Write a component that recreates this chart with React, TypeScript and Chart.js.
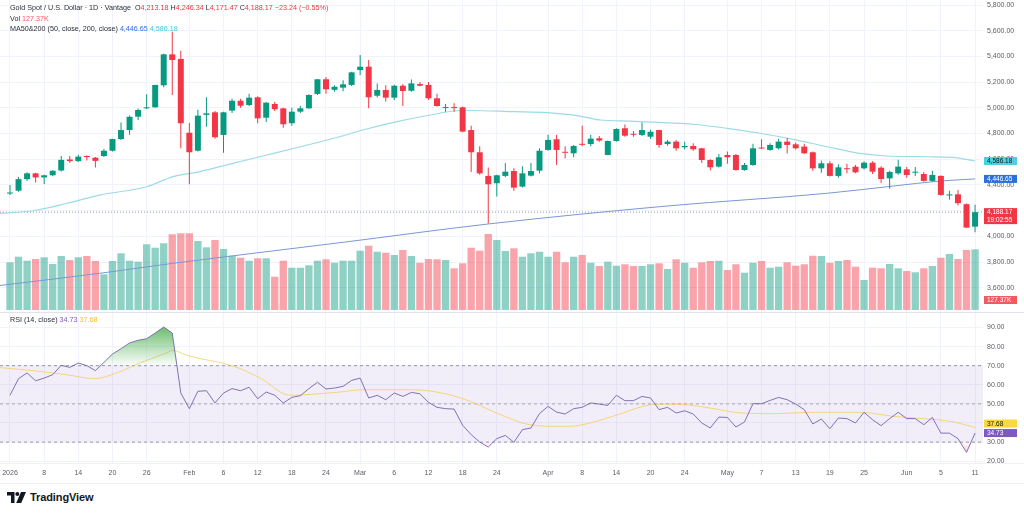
import React, { useEffect, useRef } from "react";
import { Chart, registerables } from "chart.js";

Chart.register(...registerables);

// ---------- DATA ----------
const opens = [4333, 4355, 4445, 4490, 4458, 4475, 4512, 4598, 4585, 4625, 4612, 4625, 4666, 4757, 4827, 4931, 4996, 5004, 5175, 5416, 5380, 4806, 4666, 4945, 4965, 4789, 4978, 5055, 5022, 5082, 4923, 5030, 4996, 4880, 4970, 4996, 5108, 5222, 5140, 5157, 5178, 5294, 5320, 5094, 5139, 5079, 5172, 5133, 5185, 5178, 5074, 4998, 5004, 5004, 4827, 4654, 4470, 4413, 4470, 4508, 4387, 4472, 4511, 4672, 4755, 4655, 4646, 4718, 4718, 4763, 4633, 4742, 4841, 4795, 4789, 4775, 4827, 4718, 4737, 4693, 4703, 4685, 4594, 4542, 4633, 4633, 4516, 4555, 4688, 4672, 4685, 4737, 4716, 4698, 4654, 4529, 4568, 4470, 4530, 4542, 4529, 4573, 4534, 4451, 4490, 4521, 4495, 4485, 4431, 4470, 4318, 4327, 4250, 4075];
const highs = [4399, 4462, 4498, 4495, 4480, 4515, 4625, 4625, 4635, 4630, 4618, 4680, 4760, 4885, 4940, 4995, 5105, 5180, 5420, 5592, 5445, 4882, 4985, 5082, 4975, 4970, 5070, 5070, 5110, 5090, 5045, 5045, 5000, 5000, 5015, 5105, 5225, 5240, 5175, 5215, 5280, 5411, 5372, 5190, 5175, 5180, 5185, 5220, 5200, 5200, 5110, 5030, 5035, 5010, 4860, 4700, 4535, 4480, 4570, 4530, 4545, 4570, 4685, 4790, 4790, 4700, 4710, 4860, 4790, 4780, 4745, 4840, 4870, 4820, 4885, 4830, 4830, 4750, 4750, 4735, 4725, 4690, 4600, 4640, 4660, 4640, 4570, 4720, 4755, 4725, 4760, 4765, 4730, 4720, 4660, 4590, 4585, 4560, 4565, 4555, 4585, 4585, 4545, 4510, 4595, 4540, 4540, 4500, 4510, 4475, 4355, 4360, 4255, 4246.34];
const lows = [4321, 4347, 4432, 4418, 4408, 4468, 4505, 4570, 4578, 4590, 4535, 4618, 4660, 4750, 4790, 4905, 4990, 5000, 5160, 5100, 4685, 4405, 4660, 4853, 4760, 4650, 4960, 5000, 5015, 4880, 4890, 4975, 4845, 4860, 4960, 4990, 5100, 5110, 5125, 5128, 5170, 5255, 4996, 5080, 5050, 5060, 5015, 5125, 5165, 5060, 5010, 4970, 4970, 4810, 4500, 4480, 4100, 4310, 4460, 4355, 4380, 4465, 4490, 4665, 4555, 4605, 4615, 4700, 4700, 4735, 4630, 4735, 4775, 4775, 4780, 4760, 4690, 4705, 4665, 4675, 4665, 4570, 4515, 4535, 4565, 4510, 4510, 4550, 4680, 4665, 4675, 4645, 4675, 4640, 4510, 4495, 4465, 4455, 4490, 4490, 4520, 4485, 4415, 4370, 4480, 4455, 4470, 4425, 4425, 4315, 4285, 4240, 4065, 4032];
const closes = [4338, 4445, 4490, 4458, 4475, 4510, 4595, 4585, 4620, 4616, 4587, 4666, 4757, 4827, 4930, 4983, 5004, 5178, 5416, 5372, 4880, 4654, 4939, 4957, 4771, 4965, 5055, 5016, 5079, 4918, 5040, 4989, 4872, 4970, 4996, 5100, 5222, 5144, 5164, 5183, 5276, 5320, 5082, 5139, 5079, 5172, 5131, 5190, 5172, 5074, 5014, 5004, 4998, 4815, 4654, 4490, 4405, 4475, 4503, 4379, 4490, 4508, 4666, 4750, 4672, 4650, 4703, 4712, 4760, 4745, 4742, 4835, 4783, 4790, 4827, 4814, 4711, 4737, 4685, 4703, 4677, 4594, 4537, 4615, 4615, 4516, 4555, 4685, 4683, 4711, 4737, 4711, 4685, 4646, 4529, 4568, 4470, 4537, 4522, 4498, 4573, 4503, 4446, 4501, 4542, 4477, 4503, 4431, 4477, 4322, 4326, 4258, 4068, 4188.17];
const volumesK = [100.2, 111.9, 103.5, 107.1, 110.7, 96.6, 113.4, 105, 110.7, 113.4, 102.9, 75, 102.9, 119.1, 103.5, 101.4, 138, 130.8, 140.1, 159, 161.1, 161.1, 144.9, 131.7, 147, 128.1, 114, 109.8, 103.5, 108.6, 108.6, 69.9, 103.5, 88.8, 88.8, 93.9, 103.5, 106.5, 99.3, 103.5, 103.5, 124.5, 135, 122.4, 120.3, 115.5, 126, 113.4, 99.3, 107.1, 106.5, 105, 87.6, 98.1, 130.8, 124.5, 159.6, 147, 123.9, 129.6, 111.9, 119.1, 122.4, 111.9, 122.4, 100.2, 111.9, 115.5, 99.3, 92.4, 101.4, 93, 96, 92.4, 92.4, 96, 98.1, 86.1, 106.5, 99.3, 88.8, 100.2, 102.9, 103.5, 84, 96, 78.3, 99.3, 102.9, 88.8, 90.9, 100.2, 93, 96, 114, 113.4, 99.3, 102.9, 105, 90.9, 63, 88.8, 87.6, 96.6, 87.6, 81.9, 79.2, 87.6, 92.4, 109.8, 117.6, 107.1, 126, 127.37];
const rsiValues = [54.5, 63.2, 66.2, 62.1, 63.5, 65.3, 70.2, 69.1, 71.4, 70, 67.4, 71.7, 76.1, 78.9, 81.9, 83.3, 84.1, 87.1, 90.2, 87.1, 55.7, 47.5, 56.6, 56.9, 50.5, 55.7, 58, 56.9, 58.7, 52.7, 56.2, 54.5, 50.5, 53.4, 54.3, 58, 61.3, 57.8, 58.3, 59.2, 62.3, 63.5, 53.1, 54.5, 52.2, 55.7, 53.9, 56, 55.3, 50.8, 48.2, 47.5, 47.3, 38.8, 33.9, 30, 27.4, 31.8, 33.5, 29.9, 36.5, 37.4, 44.9, 48.7, 45.7, 44.7, 47.5, 48.2, 50.5, 49.9, 49.2, 54.5, 51.7, 51.7, 53.9, 53.1, 47, 48.2, 45.2, 46.4, 44.7, 40, 37.4, 43.1, 42.9, 37.9, 40.5, 50.1, 50.1, 51.8, 53.4, 52.2, 49.9, 47, 39.5, 42.1, 37, 42.6, 42.3, 40, 45.6, 41.7, 38.6, 42.3, 45.6, 42.3, 42.3, 39.1, 42.9, 34.7, 34.7, 31.8, 24.6, 34.73];

// Moving averages sampled along the bar index axis
const fastMaIdx = [-1.2, 2.7, 6.7, 10.5, 16, 19.1, 22.2, 26.1, 30.1, 34, 38.6, 41.3, 45.3, 49.2, 52.3, 53.9, 58.9, 62.9, 66.7, 69.1, 72.6, 76.5, 80, 84, 87.8, 91.7, 95.7, 99.5, 102.7, 107.4, 110.4, 113];
const fastMaVals = [4178, 4199, 4257, 4321, 4386, 4464, 4503, 4568, 4633, 4697, 4775, 4827, 4892, 4944, 4977, 4979, 4970, 4962, 4936, 4905, 4897, 4884, 4872, 4840, 4802, 4755, 4697, 4646, 4625, 4619, 4615, 4586.18];
const slowMaIdx = [-1.2, 10.5, 19.1, 38.6, 56, 77.3, 95.7, 103.4, 108.9, 113];
const slowMaVals = [3617, 3712, 3790, 3950, 4096, 4238, 4335, 4391, 4430, 4446.65];
const rsiMaIdx = [-1.2, 2.7, 6.6, 9.9, 12.5, 15.2, 18.3, 19.1, 20.7, 26.2, 29.3, 32.8, 35.9, 38.6, 41.3, 47.2, 51.1, 53.9, 57, 60.9, 64.8, 66.7, 70.6, 74.6, 76.9, 80, 82, 85.8, 89.8, 93.7, 99.5, 103.4, 107.4, 110.1, 113];
const rsiMaVals = [69, 67.4, 65.3, 63.2, 66.2, 71.4, 76.6, 78, 75.4, 69.7, 63.5, 54.5, 55.2, 56.2, 57.4, 57.4, 55.2, 51.3, 45.2, 39.1, 38.2, 38.8, 43.5, 49.2, 49.9, 49.2, 47.8, 45.2, 44.9, 45.6, 45.6, 43.5, 42.1, 40.9, 37.68];

const xTickIdx = [0, 4, 8, 12, 16, 21, 25, 29, 33, 37, 41, 45, 49, 53, 57, 63, 67, 71, 75, 79, 84, 88, 92, 96, 100, 105, 109, 113];
const xTickText = ["2026", "8", "14", "20", "26", "Feb", "6", "12", "18", "24", "Mar", "6", "12", "18", "24", "Apr", "8", "14", "20", "24", "May", "7", "13", "19", "25", "Jun", "5", "11"];
const priceTicks = [3600, 3800, 4000, 4200, 4400, 4600, 4800, 5000, 5200, 5400, 5600, 5800];
const rsiTicks = [20, 30, 40, 50, 60, 70, 80, 90];
const rsiLevels = [70, 50, 30];
const countdownText = "19:02:55";

// ---------- STYLE ----------
const FONT = '"Liberation Sans", Arial, sans-serif';
const GREEN = "#089981";
const RED = "#f23645";
const VOL_UP = "rgba(8,153,129,0.45)";
const VOL_DN = "rgba(242,54,69,0.45)";
const FAST_LINE = "#9bdbe6";
const SLOW_LINE = "#7b97d4";
const CYAN_TXT = "#3ec5dc";
const BLUE_TXT = "#2f6fe0";
const PURPLE = "#7e57c2";
const YELLOW = "#f2c417";
const GRID = "#f0f3fa";
const AXIS_TXT = "#5d606b";
const X_MIN = -1.17;
const X_MAX = 113.93;

const fmt2 = (v: number) =>
  v.toLocaleString("en-US", { minimumFractionDigits: 2, maximumFractionDigits: 2 });

export default function App() {
  const ref = useRef<HTMLCanvasElement>(null);

  useEffect(() => {
    document.body.style.margin = "0";
    const canvas = ref.current as HTMLCanvasElement;
    const n = closes.length;
    const up = closes.map((c, i) => c >= opens[i]);
    const candleColors = up.map((u) => (u ? GREEN : RED));
    const volColors = up.map((u) => (u ? VOL_UP : VOL_DN));
    const idx = closes.map((_, i) => i);

    const lastClose = closes[n - 1];
    const lastFast = fastMaVals[fastMaVals.length - 1];
    const lastSlow = slowMaVals[slowMaVals.length - 1];
    const lastVol = volumesK[n - 1];
    const lastRsi = rsiValues[n - 1];
    const lastRsiMa = rsiMaVals[rsiMaVals.length - 1];

    const hline = (v: number) => [
      { x: X_MIN, y: v },
      { x: X_MAX, y: v },
    ];

    const greenGrad = (c: any) => {
      const ch = c.chart;
      const s = ch.scales && ch.scales.rsi;
      if (!s || !ch.chartArea) return "rgba(76,175,80,0.4)";
      const g = ch.ctx.createLinearGradient(0, s.getPixelForValue(91), 0, s.getPixelForValue(70));
      g.addColorStop(0, "rgba(76,175,80,0.85)");
      g.addColorStop(1, "rgba(76,175,80,0.02)");
      return g;
    };
    const redGrad = (c: any) => {
      const ch = c.chart;
      const s = ch.scales && ch.scales.rsi;
      if (!s || !ch.chartArea) return "rgba(242,54,69,0.2)";
      const g = ch.ctx.createLinearGradient(0, s.getPixelForValue(30), 0, s.getPixelForValue(22));
      g.addColorStop(0, "rgba(242,54,69,0.02)");
      g.addColorStop(1, "rgba(242,54,69,0.35)");
      return g;
    };

    const tagPlugin = {
      id: "tags",
      afterDraw(chart: any) {
        const { ctx, chartArea } = chart;
        const py = chart.scales.y;
        const ry = chart.scales.rsi;
        const W = chart.width;
        ctx.save();
        // pane separators
        ctx.strokeStyle = "#e0e3eb";
        ctx.lineWidth = 1;
        const hl = (y: number) => {
          ctx.beginPath();
          ctx.moveTo(0, Math.round(y) + 0.5);
          ctx.lineTo(W, Math.round(y) + 0.5);
          ctx.stroke();
        };
        hl(py.bottom);
        ctx.strokeStyle = "#eef0f4";
        hl(chartArea.bottom);
        hl(chart.height - 2);

        const x0 = chartArea.right + 1;
        const tagW = 33;
        ctx.font = `6.5px ${FONT}`;
        ctx.textBaseline = "middle";
        ctx.textAlign = "left";
        const tag = (y: number, lines: string[], bg: string, fg: string) => {
          const h = lines.length === 1 ? 8 : 16;
          ctx.fillStyle = bg;
          ctx.fillRect(x0, y - 4, tagW, h);
          ctx.fillStyle = fg;
          lines.forEach((t, k) => ctx.fillText(t, x0 + 3, y + k * 7.6 + 0.5));
        };
        tag(py.getPixelForValue(lastFast), [fmt2(lastFast)], "#4dd0e1", "#131722");
        tag(py.getPixelForValue(lastSlow), [fmt2(lastSlow)], "#2a6fdb", "#ffffff");
        tag(py.getPixelForValue(lastClose), [fmt2(lastClose), countdownText], RED, "#ffffff");
        tag(py.bottom - 12, [lastVol.toFixed(2) + "K"], "#f05a61", "#ffffff");

        let yMa = ry.getPixelForValue(lastRsiMa);
        const yR = ry.getPixelForValue(lastRsi);
        if (yR - yMa < 9.5) yMa = yR - 9.5;
        tag(yMa, [fmt2(lastRsiMa)], "#fbd740", "#131722");
        tag(yR, [fmt2(lastRsi)], PURPLE, "#ffffff");
        ctx.restore();
      },
    };

    const tickFont = { size: 7, family: FONT };

    const chart = new Chart(canvas, {
      type: "line",
      data: {
        datasets: [
          {
            type: "bar",
            label: "Volume",
            yAxisID: "vol",
            data: idx.map((i) => ({ x: i, y: volumesK[i] })),
            backgroundColor: volColors,
            grouped: false,
            barPercentage: 0.86,
            categoryPercentage: 1,
            order: 30,
          },
          {
            type: "bar",
            label: "Wicks",
            yAxisID: "y",
            data: idx.map((i) => ({ x: i, y: [lows[i], highs[i]] })),
            backgroundColor: candleColors,
            grouped: false,
            barPercentage: 0.12,
            categoryPercentage: 1,
            maxBarThickness: 1,
            order: 4,
          },
          {
            type: "bar",
            label: "Bodies",
            yAxisID: "y",
            data: idx.map((i) => ({ x: i, y: [opens[i], closes[i]] })),
            backgroundColor: candleColors,
            grouped: false,
            barPercentage: 0.7,
            categoryPercentage: 1,
            minBarLength: 1,
            order: 3,
          },
          {
            label: "MA fast",
            yAxisID: "y",
            data: fastMaIdx.map((x, k) => ({ x, y: fastMaVals[k] })),
            borderColor: FAST_LINE,
            borderWidth: 1.2,
            pointRadius: 0,
            cubicInterpolationMode: "monotone",
            order: 5,
          },
          {
            label: "MA slow",
            yAxisID: "y",
            data: slowMaIdx.map((x, k) => ({ x, y: slowMaVals[k] })),
            borderColor: SLOW_LINE,
            borderWidth: 1,
            pointRadius: 0,
            cubicInterpolationMode: "monotone",
            order: 5,
          },
          {
            label: "Last close",
            yAxisID: "y",
            data: hline(lastClose),
            borderColor: "#9598a1",
            borderWidth: 1,
            borderDash: [1, 2],
            pointRadius: 0,
            order: 25,
          },
          {
            label: "Band",
            yAxisID: "rsi",
            data: hline(rsiLevels[0]),
            borderColor: "rgba(120,123,134,0.75)",
            borderWidth: 1,
            borderDash: [3, 3],
            pointRadius: 0,
            fill: { target: { value: rsiLevels[2] } },
            backgroundColor: "rgba(126,87,194,0.1)",
            order: 40,
          },
          {
            label: "Mid",
            yAxisID: "rsi",
            data: hline(rsiLevels[1]),
            borderColor: "rgba(120,123,134,0.6)",
            borderWidth: 1,
            borderDash: [3, 3],
            pointRadius: 0,
            order: 39,
          },
          {
            label: "Low",
            yAxisID: "rsi",
            data: hline(rsiLevels[2]),
            borderColor: "rgba(120,123,134,0.75)",
            borderWidth: 1,
            borderDash: [3, 3],
            pointRadius: 0,
            order: 39,
          },
          {
            label: "RSI oversold fill",
            yAxisID: "rsi",
            data: idx.map((i) => ({ x: i, y: rsiValues[i] })),
            borderWidth: 0,
            borderColor: "rgba(0,0,0,0)",
            pointRadius: 0,
            fill: { target: { value: 30 }, above: "rgba(0,0,0,0)" },
            backgroundColor: redGrad,
            order: 12,
          },
          {
            label: "RSI MA",
            yAxisID: "rsi",
            data: rsiMaIdx.map((x, k) => ({ x, y: rsiMaVals[k] })),
            borderColor: "rgba(246,196,60,0.65)",
            borderWidth: 1,
            pointRadius: 0,
            cubicInterpolationMode: "monotone",
            order: 11,
          },
          {
            label: "RSI",
            yAxisID: "rsi",
            data: idx.map((i) => ({ x: i, y: rsiValues[i] })),
            borderColor: "rgba(118,100,170,0.9)",
            borderWidth: 1,
            pointRadius: 0,
            fill: { target: { value: 70 }, below: "rgba(0,0,0,0)" },
            backgroundColor: greenGrad,
            order: 10,
          },
        ] as any,
      },
      options: {
        responsive: false,
        devicePixelRatio: 1,
        animation: false,
        events: [],
        layout: { padding: 0 },
        plugins: { legend: { display: false }, tooltip: { enabled: false } },
        scales: {
          x: {
            type: "linear",
            min: X_MIN,
            max: X_MAX,
            offset: false,
            position: "bottom",
            afterBuildTicks: (s: any) => {
              s.ticks = xTickIdx.map((v) => ({ value: v }));
            },
            afterFit: (s: any) => {
              s.height = 22;
              s.paddingLeft = 0;
              s.paddingRight = 0;
            },
            ticks: {
              autoSkip: false,
              maxRotation: 0,
              padding: 6,
              font: tickFont,
              color: AXIS_TXT,
              callback: (v: any) => {
                const k = xTickIdx.indexOf(Number(v));
                return k >= 0 ? xTickText[k] : "";
              },
            },
            grid: { color: GRID, drawTicks: false, offset: false },
            border: { display: false },
          },
          y: {
            type: "linear",
            position: "right",
            stack: "panes",
            stackWeight: 312,
            min: 3411,
            max: 5839,
            afterBuildTicks: (s: any) => {
              s.ticks = priceTicks.map((v) => ({ value: v }));
            },
            afterFit: (s: any) => {
              s.width = 41;
              s.paddingTop = 0;
              s.paddingBottom = 0;
            },
            ticks: { autoSkip: false, padding: 4, font: tickFont, color: AXIS_TXT, callback: (v: any) => fmt2(Number(v)) },
            grid: { color: GRID, drawTicks: false },
            border: { display: false },
          },
          rsi: {
            type: "linear",
            position: "right",
            stack: "panes",
            stackWeight: 151,
            min: 19.06,
            max: 98.1,
            afterBuildTicks: (s: any) => {
              s.ticks = rsiTicks.map((v) => ({ value: v }));
            },
            afterFit: (s: any) => {
              s.width = 41;
              s.paddingTop = 0;
              s.paddingBottom = 0;
            },
            ticks: { autoSkip: false, padding: 4, font: tickFont, color: AXIS_TXT, callback: (v: any) => fmt2(Number(v)) },
            grid: { color: GRID, drawTicks: false },
            border: { display: false },
          },
          vol: {
            type: "linear",
            position: "left",
            display: false,
            min: -321.3,
            max: 651,
          },
        },
      } as any,
      plugins: [tagPlugin as any],
    });
    return () => chart.destroy();
  }, []);

  const dark = "#2a2e39";
  const sp = (c: string, t: string) => <span style={{ color: c }}>{t}</span>;

  return (
    <div
      style={{
        position: "relative",
        width: 1024,
        height: 515,
        background: "#ffffff",
        fontFamily: FONT,
        overflow: "hidden",
      }}
    >
      <canvas ref={ref} width={1024} height={485} style={{ position: "absolute", left: 0, top: 0 }} />
      <div
        style={{
          position: "absolute",
          left: 10,
          top: 3,
          fontSize: 7.2,
          lineHeight: "10.5px",
          color: dark,
          whiteSpace: "nowrap",
        }}
      >
        <div>
          Gold Spot / U.S. Dollar · 1D · Vantage&nbsp;&nbsp;O{sp(RED, "4,213.18")} H{sp(RED, "4,246.34")} L
          {sp(RED, "4,171.47")} C{sp(RED, "4,188.17")} {sp(RED, "−23.24 (−0.55%)")}
        </div>
        <div>Vol {sp("#f05a61", "127.37K")}</div>
        <div>
          MA50&amp;200 (50, close, 200, close) {sp(BLUE_TXT, "4,446.65")} {sp(CYAN_TXT, "4,586.18")}
        </div>
      </div>
      <div
        style={{
          position: "absolute",
          left: 10,
          top: 315,
          fontSize: 7.2,
          lineHeight: "10px",
          color: dark,
          whiteSpace: "nowrap",
        }}
      >
        RSI (14, close) {sp(PURPLE, "34.73")} {sp(YELLOW, "37.68")}
      </div>
      <div
        style={{
          position: "absolute",
          left: 7,
          top: 489,
          height: 16,
          display: "flex",
          alignItems: "center",
          gap: 4,
        }}
      >
        <svg width="19" height="11" viewBox="0 0 19 11">
          <path d="M0 0 H7.5 V11 H4 V3.6 H0 Z" fill="#131722" />
          <circle cx="10.3" cy="2" r="2" fill="#131722" />
          <path d="M14 0 H19 L14.2 11 H9.2 Z" fill="#131722" />
        </svg>
        <span style={{ fontSize: 11, fontWeight: 700, color: "#131722", letterSpacing: "-0.1px" }}>TradingView</span>
      </div>
    </div>
  );
}
